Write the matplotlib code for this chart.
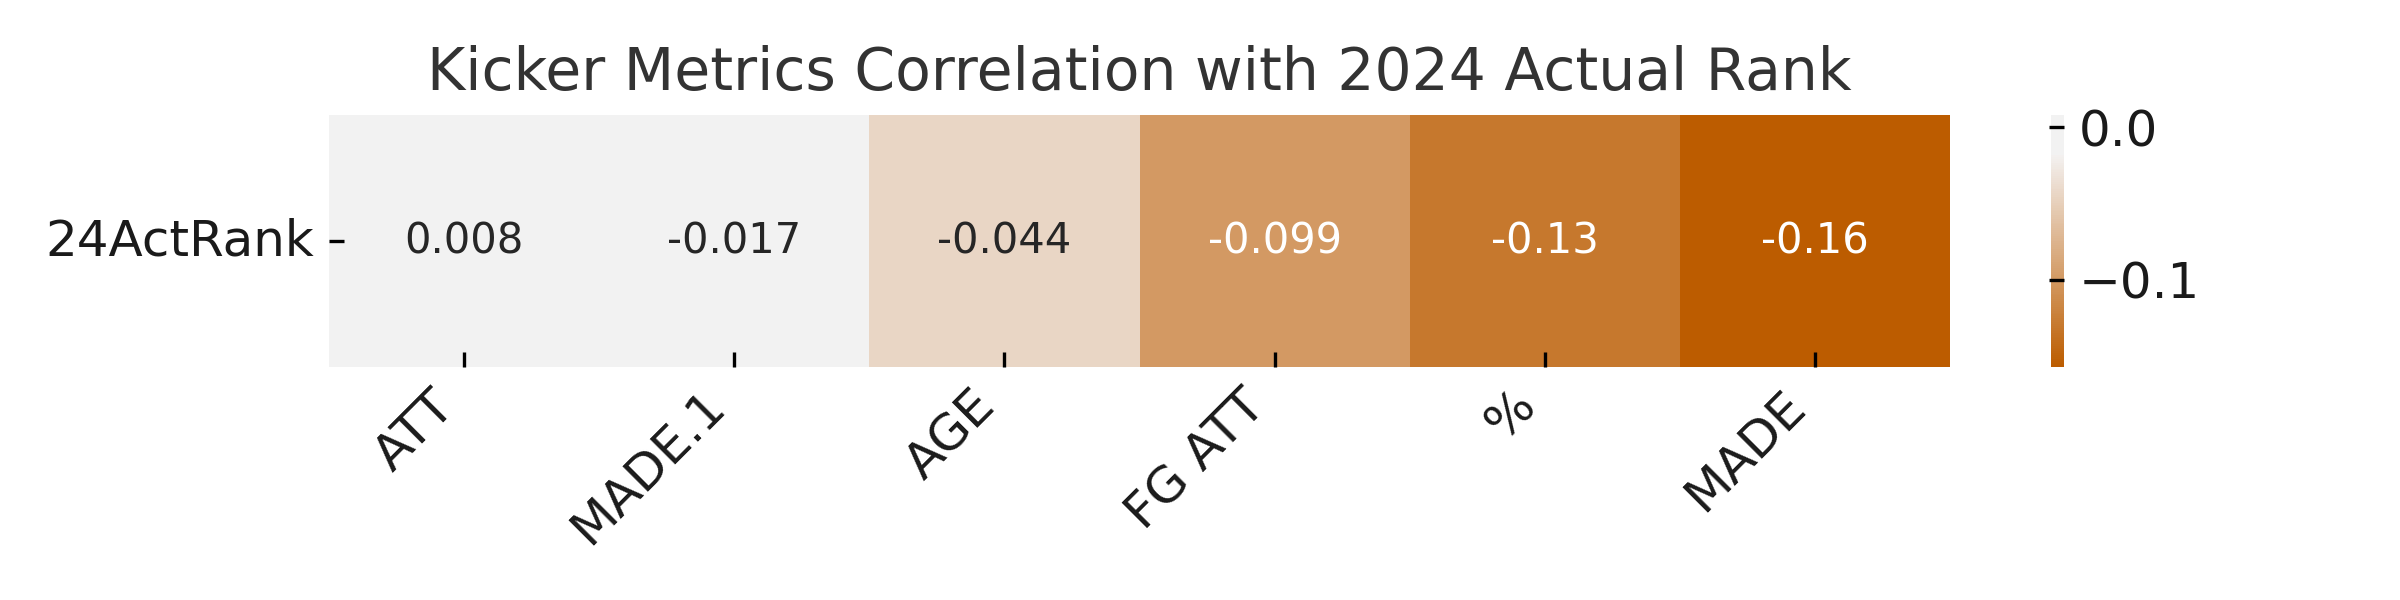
import matplotlib
matplotlib.use("Agg")
import matplotlib.pyplot as plt
import numpy as np
import pandas as pd
import seaborn as sns

metrics = ["ATT", "MADE.1", "AGE", "FG ATT", "%", "MADE"]
corr_values = [0.008, -0.017, -0.044, -0.099, -0.131, -0.157]
row_label = "24ActRank"

plt.rcParams["xtick.direction"] = "in"
plt.rcParams["ytick.direction"] = "in"
plt.rcParams["font.family"] = ["DejaVu Sans"]

df = pd.DataFrame([corr_values], index=[row_label], columns=metrics)

cmap = sns.diverging_palette(30, 240, s=100, l=50, sep=30, as_cmap=True)

fig = plt.figure(figsize=(8, 2), dpi=300)
ax = fig.add_axes([0.1371, 0.3883, 0.6754, 0.42])
cax = fig.add_axes([0.8546, 0.3883, 0.0054, 0.42])

sns.heatmap(df, annot=True, cmap=cmap, center=0, ax=ax, cbar_ax=cax,
            annot_kws={"fontsize": 10})

ax.set_title("Kicker Metrics Correlation with 2024 Actual Rank",
             fontsize=14, color="#333333", pad=6)
ax.set_xticklabels(ax.get_xticklabels(), rotation=45, ha="right",
                   fontsize=12, color="#1a1a1a")
ax.set_yticklabels(ax.get_yticklabels(), rotation=0, fontsize=12,
                   color="#1a1a1a")
cax.tick_params(labelsize=12, labelcolor="#1a1a1a")

fig.savefig("out.png", dpi=300)
